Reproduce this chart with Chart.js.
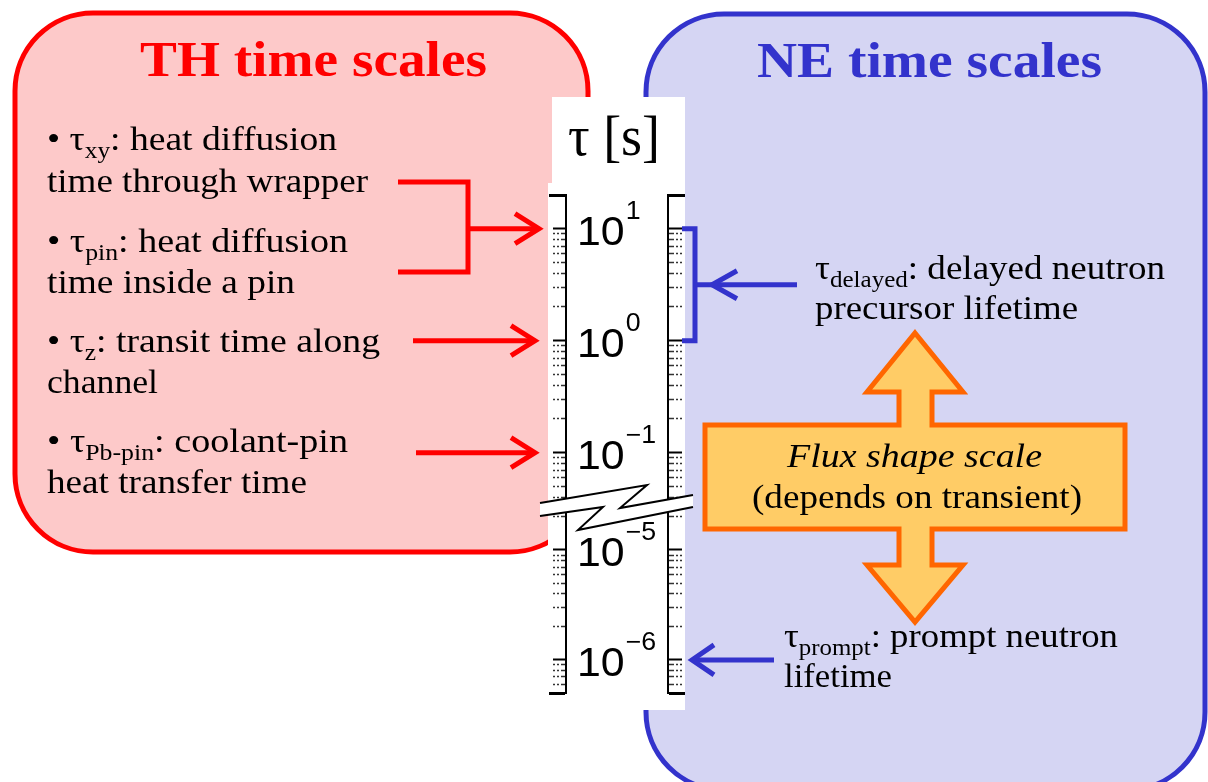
<!DOCTYPE html>
<html>
<head>
<meta charset="utf-8">
<title>TH and NE time scales</title>
<script src="https://cdn.jsdelivr.net/npm/chart.js@4.4.1/dist/chart.umd.min.js"></script>
<style>
  html, body { margin: 0; padding: 0; background: #fff; }
  canvas { display: block; }
</style>
</head>
<body>
<canvas id="chart" width="1208" height="782"></canvas>
<script>
// τ range shown on each part of the broken ruler [s]
const upperRange = [0.0378, 20];
const lowerRange = [5e-7, 2.85e-5];
// minor tick multipliers inside a decade
const minorSteps = [2, 3, 4, 5, 6, 7, 8, 9];
// labelled decades (exponents of 10)
const upperExponents = [1, 0, -1];
const lowerExponents = [-5, -6];

// time scales the arrows point at [s]
const thTargets = [10, 1, 0.1];   // τxy & τpin, τz, τPb-pin
const delayedRange = [1, 10];     // τdelayed bracket
const promptTarget = 1e-6;        // τprompt

const SERIF = '"Liberation Serif", "Times New Roman", serif';
const SANS = '"Liberation Sans", Arial, Helvetica, sans-serif';
const RED = '#ff0000', BLUE = '#3333cc', ORANGE = '#ff6600';

// text blocks: runs, x, baseline, width
const thNotes = [
    [[{t: '• τ'}, {t: 'xy', sub: true}, {t: ': heat diffusion'}], 47, 150, 290],
    [[{t: 'time through wrapper'}], 47, 192, 321],
    [[{t: '• τ'}, {t: 'pin', sub: true}, {t: ': heat diffusion'}], 47, 252, 301],
    [[{t: 'time inside a pin'}], 47, 293, 248],
    [[{t: '• τ'}, {t: 'z', sub: true}, {t: ': transit time along'}], 47, 352, 333],
    [[{t: 'channel'}], 47, 393, 111],
    [[{t: '• τ'}, {t: 'Pb-pin', sub: true}, {t: ': coolant-pin'}], 47, 452, 301],
    [[{t: 'heat transfer time'}], 47, 493, 260]
];
const neNotes = [
    [[{t: 'τ'}, {t: 'delayed', sub: true}, {t: ': delayed neutron'}], 815, 279, 350],
    [[{t: 'precursor lifetime'}], 815, 319, 263],
    [[{t: 'τ'}, {t: 'prompt', sub: true}, {t: ': prompt neutron'}], 784, 647, 334],
    [[{t: 'lifetime'}], 784, 687, 108]
];

function rulerTicks(range, capAt) {
    const ticks = [];
    const lo = Math.floor(Math.log10(range[0]));
    const hi = Math.floor(Math.log10(range[1]));
    for (let e = lo; e <= hi; e++) {
        for (const m of [1].concat(minorSteps)) {
            const v = m * Math.pow(10, e);
            if (v > range[0] * 1.001 && v < range[1] * 0.999) {
                ticks.push({value: v, major: m === 1});
            }
        }
    }
    ticks.push({value: capAt, major: true, cap: true});
    return ticks.sort((a, b) => a.value - b.value);
}

function rulerAxis(side, range, ticks, stackWeight, weight) {
    const left = side === 'left';
    return {
        type: 'logarithmic',
        position: side,
        stack: side,
        stackWeight: stackWeight,
        weight: weight,
        min: range[0],
        max: range[1],
        afterBuildTicks: axis => { axis.ticks = ticks.map(t => Object.assign({}, t)); },
        ticks: { display: false },
        border: { display: true, color: '#000', width: 2 },
        grid: {
            drawOnChartArea: false,
            drawTicks: true,
            tickLength: 17,
            tickColor: c => (c.tick && !c.tick.major) ? '#333' : '#000',
            tickWidth: c => !c.tick ? 1 : c.tick.cap ? 3 : c.tick.major ? 2 : 1.3,
            tickBorderDash: c => {
                if (!c.tick || c.tick.cap) return [];
                if (c.tick.major) return left ? [0, 4, 13, 0] : [13, 4];
                return left ? [0, 4, 2, 2, 2, 2, 5, 0] : [5, 2, 2, 2, 2, 4];
            }
        }
    };
}

function roundRect(ctx, x, y, w, h, r) {
    ctx.beginPath();
    ctx.moveTo(x + r, y);
    ctx.arcTo(x + w, y, x + w, y + h, r);
    ctx.arcTo(x + w, y + h, x, y + h, r);
    ctx.arcTo(x, y + h, x, y, r);
    ctx.arcTo(x, y, x + w, y, r);
    ctx.closePath();
}

function runFont(r, base) {
    const size = r.sub ? base.sub : base.size;
    return (base.italic ? 'italic ' : '') + (base.bold ? 'bold ' : '') + size + 'px ' + SERIF;
}

function drawRuns(ctx, runs, x, y, width, base, color) {
    let natural = 0;
    for (const r of runs) { ctx.font = runFont(r, base); natural += ctx.measureText(r.t).width; }
    const sx = width / natural;
    ctx.save();
    ctx.translate(x, y);
    ctx.scale(sx, 1);
    ctx.fillStyle = color;
    ctx.textAlign = 'left';
    ctx.textBaseline = 'alphabetic';
    let cx = 0;
    for (const r of runs) {
        ctx.font = runFont(r, base);
        ctx.fillText(r.t, cx, r.sub ? base.drop : 0);
        cx += ctx.measureText(r.t).width;
    }
    ctx.restore();
}

function chevron(ctx, tipX, y, dir, len, half) {
    ctx.beginPath();
    ctx.moveTo(tipX - dir * len, y - half);
    ctx.lineTo(tipX, y);
    ctx.lineTo(tipX - dir * len, y + half);
    ctx.stroke();
}

function decadeLabel(ctx, exp, y) {
    ctx.save();
    ctx.translate(577, y);
    ctx.scale(1.07, 1);
    ctx.fillStyle = '#000';
    ctx.textAlign = 'left';
    ctx.textBaseline = 'alphabetic';
    ctx.font = '40px ' + SANS;
    ctx.fillText('10', 0, 16);
    const w = ctx.measureText('10').width;
    ctx.font = '25px ' + SANS;
    ctx.fillText(exp < 0 ? '\u2212' + (-exp) : String(exp), w + 1, -10);
    ctx.restore();
}

const diagram = {
    id: 'diagram',
    beforeDraw(chart) {
        const ctx = chart.ctx;
        ctx.save();
        ctx.fillStyle = '#fff';
        ctx.fillRect(0, 0, chart.width, chart.height);

        // TH box
        roundRect(ctx, 15, 13, 573, 539, 78);
        ctx.fillStyle = 'rgb(253,201,201)';
        ctx.fill();
        ctx.lineWidth = 5;
        ctx.strokeStyle = RED;
        ctx.stroke();

        // NE box
        roundRect(ctx, 646, 14, 559, 776, 78);
        ctx.fillStyle = 'rgb(213,213,243)';
        ctx.fill();
        ctx.strokeStyle = BLUE;
        ctx.stroke();

        // white panel behind the ruler
        ctx.beginPath();
        ctx.moveTo(552, 97);
        ctx.lineTo(685, 97);
        ctx.lineTo(685, 710);
        ctx.lineTo(548, 710);
        ctx.lineTo(548, 183);
        ctx.lineTo(552, 183);
        ctx.closePath();
        ctx.fillStyle = '#fff';
        ctx.fill();
        ctx.restore();
    },
    afterDraw(chart) {
        const ctx = chart.ctx;
        const yTop = chart.scales.yTop, yBot = chart.scales.yBot;
        ctx.save();

        // axis break
        const yb = yTop.bottom;
        const A = [[540, 3], [647, -15], [620, 8], [693, -5]];
        const B = [[540, 16], [603, 7], [578, 30], [693, 7]];
        ctx.beginPath();
        A.forEach((p, i) => i ? ctx.lineTo(p[0], yb + p[1]) : ctx.moveTo(p[0], yb + p[1]));
        B.slice().reverse().forEach(p => ctx.lineTo(p[0], yb + p[1]));
        ctx.closePath();
        ctx.fillStyle = '#fff';
        ctx.fill();
        ctx.strokeStyle = '#000';
        ctx.lineWidth = 2;
        for (const line of [A, B]) {
            ctx.beginPath();
            line.forEach((p, i) => i ? ctx.lineTo(p[0], yb + p[1]) : ctx.moveTo(p[0], yb + p[1]));
            ctx.stroke();
        }

        // decade labels
        upperExponents.forEach(e => decadeLabel(ctx, e, yTop.getPixelForValue(Math.pow(10, e))));
        lowerExponents.forEach(e => decadeLabel(ctx, e, yBot.getPixelForValue(Math.pow(10, e))));

        // header τ [s]
        drawRuns(ctx, [{t: 'τ [s]'}], 568, 155, 92, {size: 56}, '#000');

        // TH arrows
        ctx.strokeStyle = RED;
        ctx.lineWidth = 5;
        ctx.lineJoin = 'miter';
        ctx.beginPath();
        ctx.moveTo(398, 182);
        ctx.lineTo(468, 182);
        ctx.lineTo(468, 272);
        ctx.lineTo(398, 272);
        ctx.stroke();
        const shaftStart = [468, 413, 416];
        const tips = [539, 535, 535];
        thTargets.forEach((v, i) => {
            const y = yTop.getPixelForValue(v);
            ctx.beginPath();
            ctx.moveTo(shaftStart[i], y);
            ctx.lineTo(tips[i] - 2, y);
            ctx.stroke();
            chevron(ctx, tips[i], y, 1, 24, 15);
        });

        // NE bracket + arrows
        const yR = chart.scales.yTopR, yRb = chart.scales.yBotR;
        const ya = yR.getPixelForValue(delayedRange[1]);
        const yc = yR.getPixelForValue(delayedRange[0]);
        const ym = yR.getPixelForValue(Math.sqrt(delayedRange[0] * delayedRange[1]));
        ctx.strokeStyle = BLUE;
        ctx.beginPath();
        ctx.moveTo(682, ya);
        ctx.lineTo(695, ya);
        ctx.lineTo(695, yc);
        ctx.lineTo(682, yc);
        ctx.stroke();
        ctx.beginPath();
        ctx.moveTo(797, ym);
        ctx.lineTo(697, ym);
        ctx.stroke();
        chevron(ctx, 712, ym, -1, 25, 14);
        const yp = yRb.getPixelForValue(promptTarget);
        ctx.beginPath();
        ctx.moveTo(774, yp);
        ctx.lineTo(694, yp);
        ctx.stroke();
        chevron(ctx, 692, yp, -1, 22, 15);

        // flux shape double arrow
        const flux = [[915, 333], [963, 392], [932, 392], [932, 425], [1125, 425], [1125, 529],
            [932, 529], [932, 565], [963, 565], [915, 622], [867, 565], [899, 565], [899, 529],
            [705, 529], [705, 425], [899, 425], [899, 392], [867, 392]];
        ctx.beginPath();
        flux.forEach((p, i) => i ? ctx.lineTo(p[0], p[1]) : ctx.moveTo(p[0], p[1]));
        ctx.closePath();
        ctx.fillStyle = 'rgb(255,204,102)';
        ctx.fill();
        ctx.strokeStyle = ORANGE;
        ctx.lineWidth = 5;
        ctx.stroke();
        drawRuns(ctx, [{t: 'Flux shape scale'}], 787, 467, 255, {size: 34, italic: true}, '#000');
        drawRuns(ctx, [{t: '(depends on transient)'}], 752, 508, 330, {size: 34}, '#000');

        // notes
        const body = {size: 34, sub: 23, drop: 8};
        thNotes.forEach(n => drawRuns(ctx, n[0], n[1], n[2], n[3], body, '#000'));
        neNotes.forEach(n => drawRuns(ctx, n[0], n[1], n[2], n[3], body, '#000'));

        // titles
        drawRuns(ctx, [{t: 'TH time scales'}], 140, 76, 347, {size: 51, bold: true}, RED);
        drawRuns(ctx, [{t: 'NE time scales'}], 757, 77, 345, {size: 51, bold: true}, BLUE);
        ctx.restore();
    }
};

new Chart(document.getElementById('chart'), {
    type: 'scatter',
    data: { datasets: [] },
    options: {
        responsive: false,
        animation: false,
        layout: { padding: { left: 549, right: 523, top: 195, bottom: 89 } },
        plugins: { legend: { display: false }, tooltip: { enabled: false } },
        scales: {
            x: { type: 'linear', display: false, min: 0, max: 1 },
            yTop: rulerAxis('left', upperRange, rulerTicks(upperRange, upperRange[1]), 305, 1),
            yBot: rulerAxis('left', lowerRange, rulerTicks(lowerRange, lowerRange[0]), 193, 0),
            yTopR: rulerAxis('right', upperRange, rulerTicks(upperRange, upperRange[1]), 305, 0),
            yBotR: rulerAxis('right', lowerRange, rulerTicks(lowerRange, lowerRange[0]), 193, 1)
        }
    },
    plugins: [diagram]
});
</script>
</body>
</html>
